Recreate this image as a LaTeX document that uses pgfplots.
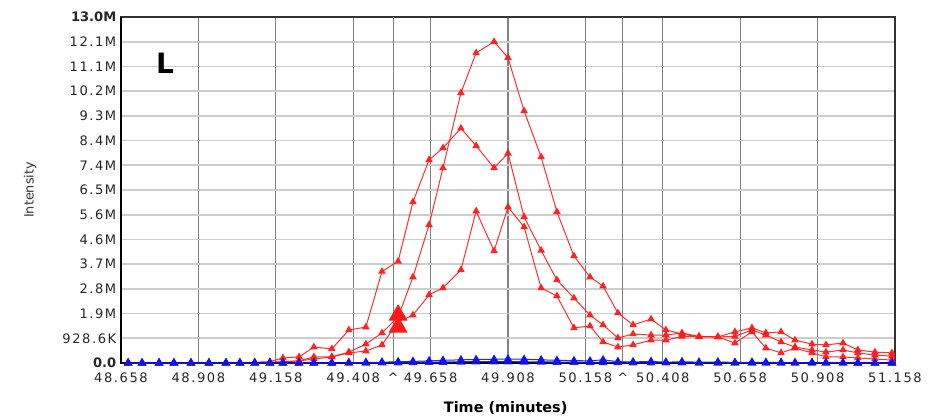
\documentclass[border=0pt]{standalone}
\usepackage{fontspec}
\setmainfont{DejaVu Sans}
\newfontfamily\tickfont[LetterSpace=12]{DejaVu Sans}
\newfontfamily\boldtick{DejaVu Sans}
\usepackage{pgfplots}
\usepackage{pgfplotstable}
\pgfplotsset{compat=1.18}

\definecolor{gridv}{HTML}{808080}
\definecolor{gridh}{HTML}{CDCDCD}
\definecolor{gridk}{HTML}{555555}
\definecolor{xicred}{HTML}{FF1A1A}
\definecolor{xicblue}{HTML}{1010F0}

% time (min), three red traces, two blue traces (intensity in millions)
\pgfplotstableread{
t       A     B     C      b1    b2
48.681  0.00  0.00  0.00   0.00  0.00
48.726  0.00  0.00  0.00   0.00  0.00
48.781  0.00  0.00  0.00   0.00  0.00
48.829  0.00  0.00  0.00   0.00  0.00
48.884  0.00  0.00  0.00   0.00  0.00
48.942  0.00  0.00  0.00   0.00  0.00
48.997  0.02  0.00  0.00   0.00  0.00
49.042  0.02  0.00  0.00   0.00  0.00
49.090  0.03  0.01  0.01   0.00  0.00
49.139  0.05  0.02  0.03   0.00  0.00
49.181  0.19  0.04  0.05   0.00  0.00
49.233  0.23  0.08  0.08   0.00  0.00
49.281  0.60  0.15  0.23   0.00  0.00
49.339  0.53  0.23  0.23   0.00  0.00
49.394  1.24  0.38  0.41   0.01  0.00
49.449  1.35  0.45  0.71   0.02  0.00
49.501  3.44  0.68  1.13   0.03  0.01
49.553  3.82  1.55  1.73   0.05  0.01
49.601  6.05  1.80  3.23   0.06  0.02
49.653  7.63  2.56  5.19   0.08  0.03
49.698  8.08  2.82  7.33   0.10  0.03
49.756  8.82  3.50 10.15   0.12  0.04
49.805  8.16  5.71 11.65   0.13  0.05
49.863  7.33  4.21 12.07   0.14  0.05
49.908  7.88  5.86 11.47   0.15  0.05
49.960  5.49  5.11  9.47   0.14  0.04
50.015  4.23  2.82  7.74   0.12  0.04
50.066  3.12  2.52  5.68   0.10  0.03
50.121  2.44  1.32  4.02   0.09  0.03
50.173  1.80  1.39  3.23   0.08  0.02
50.215  1.43  0.79  2.89   0.12  0.02
50.263  0.94  0.60  1.88   0.05  0.02
50.312  1.09  0.68  1.43   0.04  0.01
50.370  1.05  0.86  1.65   0.06  0.01
50.418  1.05  0.86  1.24   0.03  0.01
50.470  1.13  1.00  1.09   0.05  0.01
50.525  1.00  1.00  0.98   0.03  0.00
50.586  0.98  0.98  0.98   0.04  0.00
50.641  1.00  0.75  1.17   0.02  0.00
50.696  1.24  1.17  1.32   0.03  0.00
50.741  1.05  0.56  1.13   0.02  0.00
50.790  0.79  0.38  1.17   0.02  0.00
50.835  0.60  0.56  0.86   0.01  0.00
50.890  0.49  0.38  0.71   0.02  0.00
50.935  0.41  0.23  0.68   0.01  0.00
50.990  0.49  0.23  0.75   0.01  0.00
51.038  0.38  0.19  0.49   0.00  0.00
51.093  0.30  0.15  0.41   0.00  0.00
51.148  0.26  0.11  0.38   0.00  0.00
}\xic

\begin{document}
\begin{tikzpicture}
\path (-90.75pt,-42pt) rectangle (615.75pt,272.25pt);
\begin{axis}[
    at={(0,0)}, anchor=south west,
    scale only axis, width=580.5pt, height=259.5pt,
    xmin=48.658, xmax=51.158, ymin=0, ymax=13,
    clip=false,
    xtick={48.658,48.908,49.158,49.408,49.658,49.908,50.158,50.408,50.658,50.908,51.158},
    xticklabels={48.658,48.908,49.158,49.408,49.658,49.908,50.158,50.408,50.658,50.908,51.158},
    extra x ticks={49.537,50.279},
    extra x tick labels={\textasciicircum,\textasciicircum},
    extra x tick style={grid style={gridk, line width=1.9pt}},
    ytick={0,0.928571,1.857143,2.785714,3.714286,4.642857,5.571429,6.5,7.428571,8.357143,9.285714,10.214286,11.142857,12.071429,13},
    yticklabels={{\boldtick\bfseries 0.0},928.6K,1.9M,2.8M,3.7M,4.6M,5.6M,6.5M,7.4M,8.4M,9.3M,10.2M,11.1M,12.1M,{\boldtick\bfseries 13.0M}},
    grid=major,
    x grid style={gridv, line width=0.9pt},
    y grid style={gridh, line width=1.3pt},
    major tick length=0pt,
    tick label style={font=\tickfont\fontsize{9.8}{11}\selectfont, text=black!85},
    xticklabel style={yshift=-4pt},
    axis line style={black!80, line width=1.5pt},
    xlabel={\textbf{Time (minutes)}},
    ylabel={Intensity},
    xlabel style={at={(axis description cs:0.497,-0.13)}, anchor=center, font=\fontsize{10.8}{12}\selectfont},
    ylabel style={at={(axis description cs:-0.1176,0.5)}, anchor=center, font=\fontsize{9.6}{12}\selectfont, text=black!80},
    every axis plot/.append style={line width=0.75pt, mark=triangle*, mark size=2.6pt, mark options={solid}},
]
\addplot[xicred, opacity=0.9] table[x=t, y=B] {\xic};
\addplot[xicred, opacity=0.9] table[x=t, y=C] {\xic};
\addplot[xicred, opacity=0.9] table[x=t, y=A] {\xic};
\addplot[xicred, only marks, mark size=7.5pt] coordinates {(49.553,1.80) (49.553,1.35)};
\draw[black, line width=2.2pt] (rel axis cs:0,1) -- (rel axis cs:0,0) -- (rel axis cs:1,0);
\addplot[xicblue, opacity=0.9, line width=1pt, mark size=3pt] table[x=t, y=b2] {\xic};
\addplot[xicblue, opacity=0.9, mark size=3pt] table[x=t, y=b1] {\xic};
\node[font=\bfseries\fontsize{21}{24}\selectfont] at (rel axis cs:0.057,0.866) {L};
\end{axis}
\end{tikzpicture}
\end{document}
